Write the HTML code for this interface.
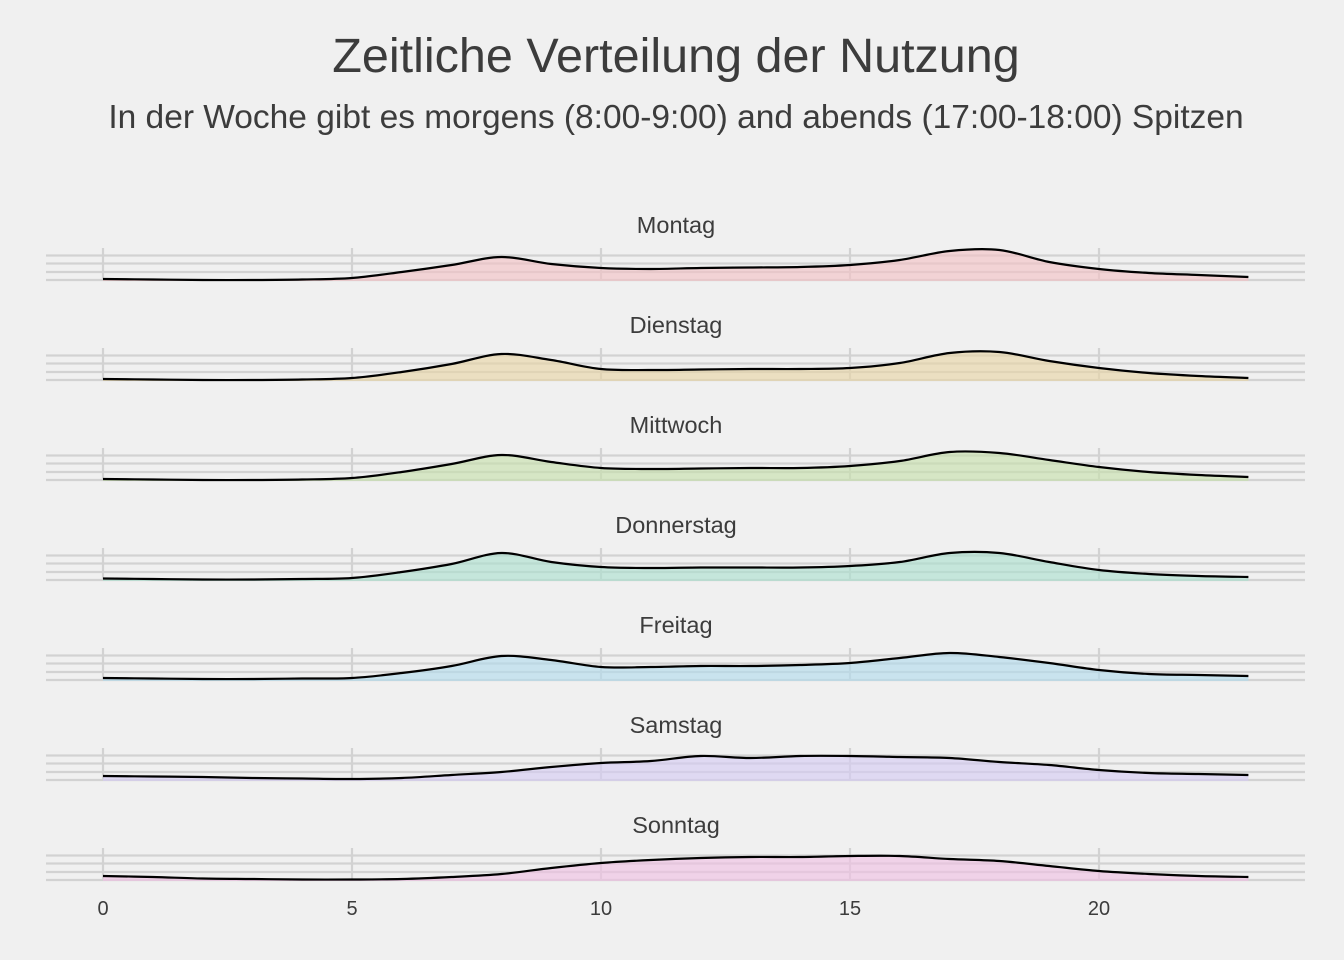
<!DOCTYPE html>
<html><head><meta charset="utf-8"><style>
html,body{margin:0;padding:0;background:#f0f0f0;}
svg{display:block;font-family:"Liberation Sans",sans-serif;}
</style></head><body>
<svg id="chart" width="1344" height="960">
<rect width="1344" height="960" fill="#f0f0f0"/>
<text x="676" y="72" text-anchor="middle" font-size="48.5" fill="#3c3c3c">Zeitliche Verteilung der Nutzung</text>
<text x="676" y="128" text-anchor="middle" font-size="33.5" fill="#3c3c3c">In der Woche gibt es morgens (8:00-9:00) and abends (17:00-18:00) Spitzen</text>
<g id="panels"></g>
<g id="xaxis"></g>
</svg>
<script>
const days = ["Montag","Dienstag","Mittwoch","Donnerstag","Freitag","Samstag","Sonntag"];
const hours = [0,1,2,3,4,5,6,7,8,9,10,11,12,13,14,15,16,17,18,19,20,21,22,23];
const montag = [1,0.5,0,0,0.5,2,8,15,23,16,12,11,12,12.5,13,15,20,29,30,18,11,7,5,3];
const dienstag = [1,0.5,0,0,0.5,2,8,16,26,20,11,10,10.5,11,11,12,17,27,28,19,12,7,4,2];
const mittwoch = [1,0.5,0,0,0.5,2,8,16,25,18,12,11,11.5,12,12,14,19,28,27,20,13,8,5,3];
const donnerstag = [1.5,1,0.5,0.5,1,2,8,16,27,18,13,12,12.5,12.5,12.5,14,18,27,27,18,10,6,4,3];
const freitag = [2,1.5,1,1,1.5,2,7,14,24,20,13,13,14,14,15,17,22,27,23,17,10,6,5,4];
const samstag = [4,3.5,3,2,1.5,1,2,5,8,13,17,19,24,22,24,24,23,22,18,15,10,7,6,5];
const sonntag = [4,3,1.5,1,0.5,0.5,1,3,6,12,17,20,22,23,23,24,24,21,19,14,9,6,4,3];
const series = [montag,dienstag,mittwoch,donnerstag,freitag,samstag,sonntag];
const colors = ["#f2c3c6","#e8d6a8","#c8e0ad","#ade0d0","#b4dced","#d6ccf2","#efc1e4"];
const xTicks = [0,5,10,15,20];

const NS="http://www.w3.org/2000/svg";
const x = h => 103 + h*49.8;
const base = i => 280 + i*100;
const y = (i,v) => base(i) - v;
function el(t,a){const e=document.createElementNS(NS,t);for(const k in a)e.setAttribute(k,a[k]);return e;}
function smooth(pts){let d="M"+pts[0][0]+","+pts[0][1];
 for(let i=0;i<pts.length-1;i++){const p0=pts[Math.max(i-1,0)],p1=pts[i],p2=pts[i+1],p3=pts[Math.min(i+2,pts.length-1)];
  const c1=[p1[0]+(p2[0]-p0[0])/6,p1[1]+(p2[1]-p0[1])/6],c2=[p2[0]-(p3[0]-p1[0])/6,p2[1]-(p3[1]-p1[1])/6];
  d+=" C"+c1[0]+","+c1[1]+" "+c2[0]+","+c2[1]+" "+p2[0]+","+p2[1];}
 return d;}
const panels=document.getElementById("panels");
days.forEach((day,i)=>{
 const g=el("g",{});
 
 
 const b=base(i);
 [b-24.5,b-16.5,b-8,b].forEach(gy=>{
  const l=el("line",{x1:46,x2:1305,y1:gy,y2:gy,stroke:"#d2d2d2","stroke-width":2.2});
  
  
  g.appendChild(l);});
 xTicks.forEach(t=>{
  const l=el("line",{x1:x(t),x2:x(t),y1:b-32,y2:b,stroke:"#d2d2d2","stroke-width":2.2});
  
  
  g.appendChild(l);});
 const lab=el("text",{x:676,y:b-47,"text-anchor":"middle","font-size":23.5,fill:"#3c3c3c"});
 lab.textContent=day;
 
 
 g.appendChild(lab);
 const pts=hours.map((h,k)=>[x(h),y(i,series[i][k])]);
 const line=smooth(pts);
 const area=el("path",{d:line+" L"+x(23)+","+(b+1)+" L"+x(0)+","+(b+1)+" Z",fill:colors[i],"fill-opacity":0.65});
 
 
 g.appendChild(area);
 const p=el("path",{d:line,fill:"none",stroke:"#000","stroke-width":2.2});
 
 
 g.appendChild(p);
 panels.appendChild(g);
});
const xa=document.getElementById("xaxis");


xTicks.forEach(t=>{
 const tx=el("text",{x:x(t),y:915,"text-anchor":"middle","font-size":20,fill:"#3c3c3c"});
 tx.textContent=t;
 
 
 xa.appendChild(tx);});
</script>
</body></html>
